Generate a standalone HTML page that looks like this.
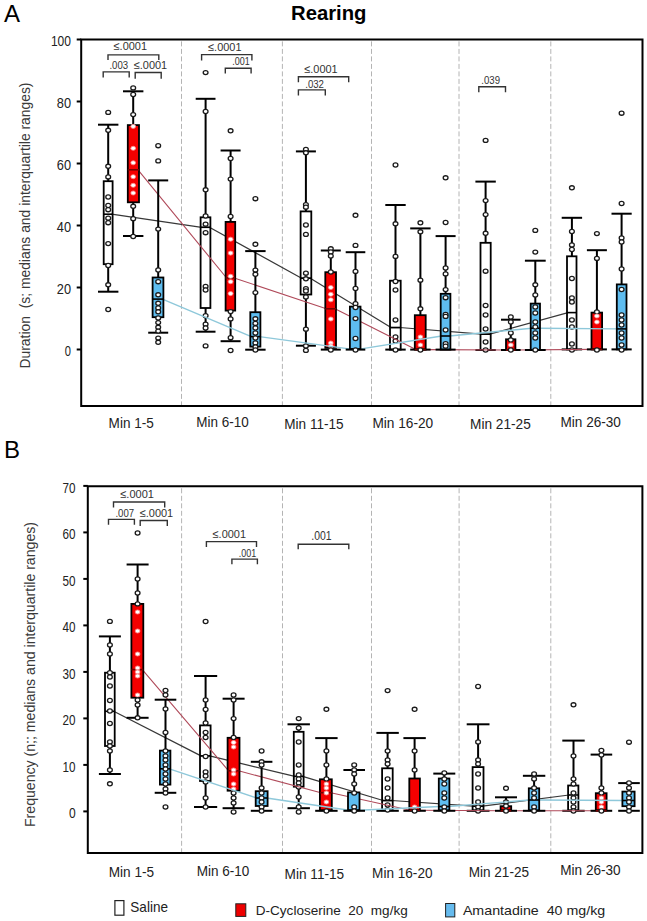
<!DOCTYPE html>
<html><head><meta charset="utf-8"><style>
html,body{margin:0;padding:0;background:#fff;}
svg{display:block;}
text{font-family:"Liberation Sans", sans-serif;}
.wk{stroke:#000;stroke-width:2;fill:none;}
.bx{stroke:#000;stroke-width:1.8;}
.md{stroke-width:1.6;}
.ptr{fill:#fff;stroke:#f88;stroke-width:0.8;}
.pt{fill:#fff;stroke:#1a1a1a;stroke-width:1.3;}
.br{fill:none;stroke:#333;stroke-width:1.4;}
.fr{fill:none;stroke:#000;stroke-width:2;}
.dl{stroke:#b4b4b4;stroke-width:1;stroke-dasharray:5 2.5;}
</style></head><body>
<svg width="647" height="921" viewBox="0 0 647 921">
<rect x="0" y="0" width="647" height="921" fill="#fff"/>

<text x="4" y="21.6" font-size="24" fill="#000">A</text>
<text x="291" y="19.5" font-size="20" font-weight="bold" textLength="75.5" lengthAdjust="spacingAndGlyphs" fill="#000">Rearing</text>
<text x="4" y="458" font-size="24" fill="#000">B</text>
<line x1="181.5" y1="41.4" x2="181.5" y2="405.0" class="dl"/>
<line x1="282.4" y1="41.4" x2="282.4" y2="405.0" class="dl"/>
<line x1="371.5" y1="41.4" x2="371.5" y2="405.0" class="dl"/>
<line x1="459.0" y1="41.4" x2="459.0" y2="405.0" class="dl"/>
<line x1="550.8" y1="41.4" x2="550.8" y2="405.0" class="dl"/>
<path d="M111.6,214.2 L201.6,227.3 L209.4,227.3 L301.6,278.2 L310.3,278.2 L391.0,327.5 L399.7,327.5 L481.5,334.2 L489.7,334.2 L568.0,312.6" fill="none" stroke="#383838" stroke-width="1.25" stroke-linejoin="round"/>
<rect x="103.7" y="181.2" width="8.9" height="83.0" fill="none" class="bx"/>
<line x1="108.2" y1="124.7" x2="108.2" y2="181.2" class="wk"/>
<line x1="108.2" y1="264.2" x2="108.2" y2="291.7" class="wk"/>
<line x1="98.0" y1="124.7" x2="118.4" y2="124.7" class="wk"/>
<line x1="98.0" y1="291.7" x2="118.4" y2="291.7" class="wk"/>
<line x1="103.7" y1="214.2" x2="112.6" y2="214.2" stroke="#000" class="md"/>
<rect x="200.6" y="217.3" width="9.8" height="90.7" fill="none" class="bx"/>
<line x1="205.6" y1="98.8" x2="205.6" y2="217.3" class="wk"/>
<line x1="205.6" y1="308.0" x2="205.6" y2="331.7" class="wk"/>
<line x1="195.7" y1="98.8" x2="215.5" y2="98.8" class="wk"/>
<line x1="195.7" y1="331.7" x2="215.5" y2="331.7" class="wk"/>
<line x1="200.6" y1="227.3" x2="210.4" y2="227.3" stroke="#000" class="md"/>
<rect x="300.6" y="211.4" width="10.7" height="83.1" fill="none" class="bx"/>
<line x1="305.9" y1="151.4" x2="305.9" y2="211.4" class="wk"/>
<line x1="305.9" y1="294.5" x2="305.9" y2="345.7" class="wk"/>
<line x1="295.9" y1="151.4" x2="315.9" y2="151.4" class="wk"/>
<line x1="295.9" y1="345.7" x2="315.9" y2="345.7" class="wk"/>
<line x1="300.6" y1="278.2" x2="311.3" y2="278.2" stroke="#000" class="md"/>
<rect x="390.0" y="280.7" width="10.7" height="68.9" fill="none" class="bx"/>
<line x1="395.5" y1="205.0" x2="395.5" y2="280.7" class="wk"/>
<line x1="385.3" y1="205.0" x2="405.7" y2="205.0" class="wk"/>
<line x1="385.3" y1="349.6" x2="405.7" y2="349.6" class="wk"/>
<line x1="390.0" y1="327.5" x2="400.7" y2="327.5" stroke="#000" class="md"/>
<rect x="480.5" y="242.8" width="10.2" height="107.2" fill="none" class="bx"/>
<line x1="485.6" y1="181.6" x2="485.6" y2="242.8" class="wk"/>
<line x1="475.40000000000003" y1="181.6" x2="495.8" y2="181.6" class="wk"/>
<line x1="475.40000000000003" y1="350.0" x2="495.8" y2="350.0" class="wk"/>
<line x1="480.5" y1="334.2" x2="490.7" y2="334.2" stroke="#000" class="md"/>
<rect x="567.0" y="256.3" width="9.5" height="93.1" fill="none" class="bx"/>
<line x1="571.9" y1="217.8" x2="571.9" y2="256.3" class="wk"/>
<line x1="561.6999999999999" y1="217.8" x2="582.1" y2="217.8" class="wk"/>
<line x1="561.6999999999999" y1="349.4" x2="582.1" y2="349.4" class="wk"/>
<line x1="567.0" y1="312.6" x2="576.5" y2="312.6" stroke="#000" class="md"/>
<ellipse cx="108.2" cy="112.4" rx="2.4" ry="2.05" class="pt"/>
<ellipse cx="108.2" cy="130.3" rx="2.4" ry="2.05" class="pt"/>
<ellipse cx="108.2" cy="166.3" rx="2.4" ry="2.05" class="pt"/>
<ellipse cx="108.2" cy="176.9" rx="2.4" ry="2.05" class="pt"/>
<ellipse cx="108.2" cy="197" rx="2.4" ry="2.05" class="pt"/>
<ellipse cx="108.2" cy="205.5" rx="2.4" ry="2.05" class="pt"/>
<ellipse cx="108.2" cy="209.7" rx="2.4" ry="2.05" class="pt"/>
<ellipse cx="108.2" cy="218.2" rx="2.4" ry="2.05" class="pt"/>
<ellipse cx="108.2" cy="222.7" rx="2.4" ry="2.05" class="pt"/>
<ellipse cx="108.2" cy="243.6" rx="2.4" ry="2.05" class="pt"/>
<ellipse cx="108.2" cy="265.5" rx="2.4" ry="2.05" class="pt"/>
<ellipse cx="108.2" cy="284.8" rx="2.4" ry="2.05" class="pt"/>
<ellipse cx="108.2" cy="309.5" rx="2.4" ry="2.05" class="pt"/>
<ellipse cx="205.6" cy="72.6" rx="2.4" ry="2.05" class="pt"/>
<ellipse cx="205.6" cy="111.5" rx="2.4" ry="2.05" class="pt"/>
<ellipse cx="205.6" cy="189.8" rx="2.4" ry="2.05" class="pt"/>
<ellipse cx="205.6" cy="216" rx="2.4" ry="2.05" class="pt"/>
<ellipse cx="205.6" cy="224.2" rx="2.4" ry="2.05" class="pt"/>
<ellipse cx="205.6" cy="232.7" rx="2.4" ry="2.05" class="pt"/>
<ellipse cx="205.6" cy="286.4" rx="2.4" ry="2.05" class="pt"/>
<ellipse cx="205.6" cy="290" rx="2.4" ry="2.05" class="pt"/>
<ellipse cx="205.6" cy="315.7" rx="2.4" ry="2.05" class="pt"/>
<ellipse cx="205.6" cy="324.2" rx="2.4" ry="2.05" class="pt"/>
<ellipse cx="205.6" cy="328" rx="2.4" ry="2.05" class="pt"/>
<ellipse cx="205.6" cy="345.9" rx="2.4" ry="2.05" class="pt"/>
<ellipse cx="305.9" cy="149.4" rx="2.4" ry="2.05" class="pt"/>
<ellipse cx="305.9" cy="152.8" rx="2.4" ry="2.05" class="pt"/>
<ellipse cx="305.9" cy="204.6" rx="2.4" ry="2.05" class="pt"/>
<ellipse cx="305.9" cy="207.2" rx="2.4" ry="2.05" class="pt"/>
<ellipse cx="305.9" cy="225" rx="2.4" ry="2.05" class="pt"/>
<ellipse cx="305.9" cy="234.4" rx="2.4" ry="2.05" class="pt"/>
<ellipse cx="305.9" cy="273.2" rx="2.4" ry="2.05" class="pt"/>
<ellipse cx="305.9" cy="278.8" rx="2.4" ry="2.05" class="pt"/>
<ellipse cx="305.9" cy="288.7" rx="2.4" ry="2.05" class="pt"/>
<ellipse cx="305.9" cy="291" rx="2.4" ry="2.05" class="pt"/>
<ellipse cx="305.9" cy="297" rx="2.4" ry="2.05" class="pt"/>
<ellipse cx="305.9" cy="329.2" rx="2.4" ry="2.05" class="pt"/>
<ellipse cx="305.9" cy="346" rx="2.4" ry="2.05" class="pt"/>
<ellipse cx="305.9" cy="350.4" rx="2.4" ry="2.05" class="pt"/>
<ellipse cx="395.5" cy="165" rx="2.4" ry="2.05" class="pt"/>
<ellipse cx="395.5" cy="223.8" rx="2.4" ry="2.05" class="pt"/>
<ellipse cx="395.5" cy="256.4" rx="2.4" ry="2.05" class="pt"/>
<ellipse cx="395.5" cy="281.5" rx="2.4" ry="2.05" class="pt"/>
<ellipse cx="395.5" cy="290" rx="2.4" ry="2.05" class="pt"/>
<ellipse cx="395.5" cy="320" rx="2.4" ry="2.05" class="pt"/>
<ellipse cx="395.5" cy="337" rx="2.4" ry="2.05" class="pt"/>
<ellipse cx="395.5" cy="341" rx="2.4" ry="2.05" class="pt"/>
<ellipse cx="395.5" cy="350" rx="2.4" ry="2.05" class="pt"/>
<ellipse cx="485.6" cy="140.4" rx="2.4" ry="2.05" class="pt"/>
<ellipse cx="485.6" cy="200.6" rx="2.4" ry="2.05" class="pt"/>
<ellipse cx="485.6" cy="214.6" rx="2.4" ry="2.05" class="pt"/>
<ellipse cx="485.6" cy="233.3" rx="2.4" ry="2.05" class="pt"/>
<ellipse cx="485.6" cy="271.2" rx="2.4" ry="2.05" class="pt"/>
<ellipse cx="485.6" cy="305.5" rx="2.4" ry="2.05" class="pt"/>
<ellipse cx="485.6" cy="315" rx="2.4" ry="2.05" class="pt"/>
<ellipse cx="485.6" cy="329" rx="2.4" ry="2.05" class="pt"/>
<ellipse cx="485.6" cy="342" rx="2.4" ry="2.05" class="pt"/>
<ellipse cx="485.6" cy="350" rx="2.4" ry="2.05" class="pt"/>
<ellipse cx="571.9" cy="187.8" rx="2.4" ry="2.05" class="pt"/>
<ellipse cx="571.9" cy="231.5" rx="2.4" ry="2.05" class="pt"/>
<ellipse cx="571.9" cy="245" rx="2.4" ry="2.05" class="pt"/>
<ellipse cx="571.9" cy="249.5" rx="2.4" ry="2.05" class="pt"/>
<ellipse cx="571.9" cy="278.5" rx="2.4" ry="2.05" class="pt"/>
<ellipse cx="571.9" cy="298" rx="2.4" ry="2.05" class="pt"/>
<ellipse cx="571.9" cy="302" rx="2.4" ry="2.05" class="pt"/>
<ellipse cx="571.9" cy="320" rx="2.4" ry="2.05" class="pt"/>
<ellipse cx="571.9" cy="327" rx="2.4" ry="2.05" class="pt"/>
<ellipse cx="571.9" cy="344" rx="2.4" ry="2.05" class="pt"/>
<ellipse cx="571.9" cy="350" rx="2.4" ry="2.05" class="pt"/>
<path d="M138.0,169.8 L226.6,278.0 L234.2,278.0 L326.3,308.8 L335.0,308.8 L415.8,349.6 L424.7,349.6 L507.0,350.0 L514.4,350.0 L592.5,349.4" fill="none" stroke="#b04a5a" stroke-width="1.1" stroke-linejoin="round"/>
<rect x="127.8" y="125.1" width="11.2" height="77.2" fill="#f40000" class="bx"/>
<line x1="133.2" y1="91.3" x2="133.2" y2="125.1" class="wk"/>
<line x1="133.2" y1="202.3" x2="133.2" y2="236.0" class="wk"/>
<line x1="122.99999999999999" y1="91.3" x2="143.39999999999998" y2="91.3" class="wk"/>
<line x1="122.99999999999999" y1="236.0" x2="143.39999999999998" y2="236.0" class="wk"/>
<line x1="127.8" y1="169.8" x2="139.0" y2="169.8" stroke="#700" class="md"/>
<rect x="225.6" y="221.9" width="9.6" height="88.7" fill="#f40000" class="bx"/>
<line x1="230.6" y1="150.5" x2="230.6" y2="221.9" class="wk"/>
<line x1="230.6" y1="310.6" x2="230.6" y2="341.2" class="wk"/>
<line x1="220.6" y1="150.5" x2="240.6" y2="150.5" class="wk"/>
<line x1="220.6" y1="341.2" x2="240.6" y2="341.2" class="wk"/>
<line x1="225.6" y1="278.0" x2="235.2" y2="278.0" stroke="#700" class="md"/>
<rect x="325.3" y="272.2" width="10.7" height="75.7" fill="#f40000" class="bx"/>
<line x1="330.8" y1="250.5" x2="330.8" y2="272.2" class="wk"/>
<line x1="330.8" y1="347.9" x2="330.8" y2="349.6" class="wk"/>
<line x1="320.8" y1="250.5" x2="340.8" y2="250.5" class="wk"/>
<line x1="320.8" y1="349.6" x2="340.8" y2="349.6" class="wk"/>
<line x1="325.3" y1="308.8" x2="336.0" y2="308.8" stroke="#700" class="md"/>
<rect x="414.8" y="315.2" width="10.9" height="34.4" fill="#f40000" class="bx"/>
<line x1="420.4" y1="228.4" x2="420.4" y2="315.2" class="wk"/>
<line x1="410.2" y1="228.4" x2="430.59999999999997" y2="228.4" class="wk"/>
<line x1="410.2" y1="349.6" x2="430.59999999999997" y2="349.6" class="wk"/>
<line x1="414.8" y1="349.6" x2="425.7" y2="349.6" stroke="#700" class="md"/>
<rect x="506.0" y="339.3" width="9.4" height="10.7" fill="#f40000" class="bx"/>
<line x1="510.8" y1="319.7" x2="510.8" y2="339.3" class="wk"/>
<line x1="501.0" y1="319.7" x2="520.6" y2="319.7" class="wk"/>
<line x1="501.0" y1="350.0" x2="520.6" y2="350.0" class="wk"/>
<line x1="506.0" y1="350.0" x2="515.4" y2="350.0" stroke="#700" class="md"/>
<rect x="591.5" y="312.6" width="10.6" height="36.8" fill="#f40000" class="bx"/>
<line x1="596.9" y1="250.2" x2="596.9" y2="312.6" class="wk"/>
<line x1="586.9" y1="250.2" x2="606.9" y2="250.2" class="wk"/>
<line x1="586.9" y1="349.4" x2="606.9" y2="349.4" class="wk"/>
<line x1="591.5" y1="349.4" x2="602.1" y2="349.4" stroke="#700" class="md"/>
<ellipse cx="133.2" cy="87.9" rx="2.4" ry="2.05" class="pt"/>
<ellipse cx="133.2" cy="94.5" rx="2.4" ry="2.05" class="pt"/>
<ellipse cx="133.2" cy="114.6" rx="2.4" ry="2.05" class="pt"/>
<ellipse cx="133.2" cy="126.4" rx="2.4" ry="2.05" class="ptr"/>
<ellipse cx="133.2" cy="148.3" rx="2.4" ry="2.05" class="ptr"/>
<ellipse cx="133.2" cy="162.8" rx="2.4" ry="2.05" class="ptr"/>
<ellipse cx="133.2" cy="176.7" rx="2.4" ry="2.05" class="ptr"/>
<ellipse cx="133.2" cy="185.3" rx="2.4" ry="2.05" class="ptr"/>
<ellipse cx="133.2" cy="193" rx="2.4" ry="2.05" class="ptr"/>
<ellipse cx="133.2" cy="206.3" rx="2.4" ry="2.05" class="pt"/>
<ellipse cx="133.2" cy="218.7" rx="2.4" ry="2.05" class="pt"/>
<ellipse cx="133.2" cy="236.5" rx="2.4" ry="2.05" class="pt"/>
<ellipse cx="230.6" cy="130.8" rx="2.4" ry="2.05" class="pt"/>
<ellipse cx="230.6" cy="158.5" rx="2.4" ry="2.05" class="pt"/>
<ellipse cx="230.6" cy="179.1" rx="2.4" ry="2.05" class="pt"/>
<ellipse cx="230.6" cy="216.5" rx="2.4" ry="2.05" class="pt"/>
<ellipse cx="230.6" cy="239.2" rx="2.4" ry="2.05" class="ptr"/>
<ellipse cx="230.6" cy="253.1" rx="2.4" ry="2.05" class="ptr"/>
<ellipse cx="230.6" cy="276.3" rx="2.4" ry="2.05" class="ptr"/>
<ellipse cx="230.6" cy="281.7" rx="2.4" ry="2.05" class="ptr"/>
<ellipse cx="230.6" cy="293.6" rx="2.4" ry="2.05" class="ptr"/>
<ellipse cx="230.6" cy="311.6" rx="2.4" ry="2.05" class="pt"/>
<ellipse cx="230.6" cy="318.9" rx="2.4" ry="2.05" class="pt"/>
<ellipse cx="230.6" cy="337.7" rx="2.4" ry="2.05" class="pt"/>
<ellipse cx="230.6" cy="350.5" rx="2.4" ry="2.05" class="pt"/>
<ellipse cx="330.8" cy="248.8" rx="2.4" ry="2.05" class="pt"/>
<ellipse cx="330.8" cy="252" rx="2.4" ry="2.05" class="pt"/>
<ellipse cx="330.8" cy="256" rx="2.4" ry="2.05" class="pt"/>
<ellipse cx="330.8" cy="272" rx="2.4" ry="2.05" class="pt"/>
<ellipse cx="330.8" cy="287.5" rx="2.4" ry="2.05" class="ptr"/>
<ellipse cx="330.8" cy="294.3" rx="2.4" ry="2.05" class="ptr"/>
<ellipse cx="330.8" cy="299.8" rx="2.4" ry="2.05" class="ptr"/>
<ellipse cx="330.8" cy="319" rx="2.4" ry="2.05" class="ptr"/>
<ellipse cx="330.8" cy="343" rx="2.4" ry="2.05" class="ptr"/>
<ellipse cx="330.8" cy="346" rx="2.4" ry="2.05" class="ptr"/>
<ellipse cx="330.8" cy="350" rx="2.4" ry="2.05" class="pt"/>
<ellipse cx="420.4" cy="222.8" rx="2.4" ry="2.05" class="pt"/>
<ellipse cx="420.4" cy="231.8" rx="2.4" ry="2.05" class="pt"/>
<ellipse cx="420.4" cy="280.2" rx="2.4" ry="2.05" class="pt"/>
<ellipse cx="420.4" cy="308.8" rx="2.4" ry="2.05" class="pt"/>
<ellipse cx="420.4" cy="337" rx="2.4" ry="2.05" class="ptr"/>
<ellipse cx="420.4" cy="345" rx="2.4" ry="2.05" class="ptr"/>
<ellipse cx="420.4" cy="350" rx="2.4" ry="2.05" class="pt"/>
<ellipse cx="510.8" cy="317" rx="2.4" ry="2.05" class="pt"/>
<ellipse cx="510.8" cy="322" rx="2.4" ry="2.05" class="pt"/>
<ellipse cx="510.8" cy="333" rx="2.4" ry="2.05" class="pt"/>
<ellipse cx="510.8" cy="340" rx="2.4" ry="2.05" class="pt"/>
<ellipse cx="510.8" cy="345" rx="2.4" ry="2.05" class="ptr"/>
<ellipse cx="510.8" cy="350" rx="2.4" ry="2.05" class="pt"/>
<ellipse cx="596.9" cy="233.6" rx="2.4" ry="2.05" class="pt"/>
<ellipse cx="596.9" cy="258.4" rx="2.4" ry="2.05" class="pt"/>
<ellipse cx="596.9" cy="312" rx="2.4" ry="2.05" class="pt"/>
<ellipse cx="596.9" cy="316" rx="2.4" ry="2.05" class="ptr"/>
<ellipse cx="596.9" cy="322" rx="2.4" ry="2.05" class="ptr"/>
<ellipse cx="596.9" cy="350" rx="2.4" ry="2.05" class="pt"/>
<path d="M162.4,299.1 L251.3,336.6 L259.4,336.6 L350.9,349.1 L359.5,349.1 L441.7,336.0 L449.4,336.0 L531.7,328.2 L539.0,328.2 L617.8,328.9" fill="none" stroke="#8ec8da" stroke-width="1.4" stroke-linejoin="round"/>
<rect x="152.6" y="277.5" width="10.8" height="39.7" fill="#5ebdf0" class="bx"/>
<line x1="158.2" y1="180.4" x2="158.2" y2="277.5" class="wk"/>
<line x1="158.2" y1="317.2" x2="158.2" y2="332.7" class="wk"/>
<line x1="148.2" y1="180.4" x2="168.2" y2="180.4" class="wk"/>
<line x1="148.2" y1="332.7" x2="168.2" y2="332.7" class="wk"/>
<line x1="152.6" y1="299.1" x2="163.4" y2="299.1" stroke="#000" class="md"/>
<rect x="250.3" y="312.2" width="10.1" height="34.4" fill="#5ebdf0" class="bx"/>
<line x1="255.4" y1="251.1" x2="255.4" y2="312.2" class="wk"/>
<line x1="255.4" y1="346.6" x2="255.4" y2="349.7" class="wk"/>
<line x1="245.20000000000002" y1="251.1" x2="265.6" y2="251.1" class="wk"/>
<line x1="245.20000000000002" y1="349.7" x2="265.6" y2="349.7" class="wk"/>
<line x1="250.3" y1="336.6" x2="260.4" y2="336.6" stroke="#000" class="md"/>
<rect x="349.9" y="306.6" width="10.6" height="42.5" fill="#5ebdf0" class="bx"/>
<line x1="355.5" y1="252.2" x2="355.5" y2="306.6" class="wk"/>
<line x1="345.7" y1="252.2" x2="365.3" y2="252.2" class="wk"/>
<line x1="345.7" y1="349.6" x2="365.3" y2="349.6" class="wk"/>
<line x1="349.9" y1="349.1" x2="360.5" y2="349.1" stroke="#000" class="md"/>
<rect x="440.7" y="293.8" width="9.7" height="55.8" fill="#5ebdf0" class="bx"/>
<line x1="445.6" y1="236.1" x2="445.6" y2="293.8" class="wk"/>
<line x1="435.6" y1="236.1" x2="455.6" y2="236.1" class="wk"/>
<line x1="435.6" y1="349.6" x2="455.6" y2="349.6" class="wk"/>
<line x1="440.7" y1="336.0" x2="450.4" y2="336.0" stroke="#000" class="md"/>
<rect x="530.7" y="303.6" width="9.3" height="46.4" fill="#5ebdf0" class="bx"/>
<line x1="535.3" y1="260.7" x2="535.3" y2="303.6" class="wk"/>
<line x1="524.9" y1="260.7" x2="545.6999999999999" y2="260.7" class="wk"/>
<line x1="524.9" y1="350.0" x2="545.6999999999999" y2="350.0" class="wk"/>
<line x1="530.7" y1="328.2" x2="540.0" y2="328.2" stroke="#000" class="md"/>
<rect x="616.8" y="284.4" width="9.7" height="65.0" fill="#5ebdf0" class="bx"/>
<line x1="621.6" y1="213.7" x2="621.6" y2="284.4" class="wk"/>
<line x1="611.5" y1="213.7" x2="631.7" y2="213.7" class="wk"/>
<line x1="611.5" y1="349.4" x2="631.7" y2="349.4" class="wk"/>
<line x1="616.8" y1="328.9" x2="626.5" y2="328.9" stroke="#000" class="md"/>
<ellipse cx="158.2" cy="145.7" rx="2.4" ry="2.05" class="pt"/>
<ellipse cx="158.2" cy="160.9" rx="2.4" ry="2.05" class="pt"/>
<ellipse cx="158.2" cy="229.1" rx="2.4" ry="2.05" class="pt"/>
<ellipse cx="158.2" cy="270" rx="2.4" ry="2.05" class="pt"/>
<ellipse cx="158.2" cy="281.7" rx="2.4" ry="2.05" class="pt"/>
<ellipse cx="158.2" cy="294.8" rx="2.4" ry="2.05" class="pt"/>
<ellipse cx="158.2" cy="303.3" rx="2.4" ry="2.05" class="pt"/>
<ellipse cx="158.2" cy="308" rx="2.4" ry="2.05" class="pt"/>
<ellipse cx="158.2" cy="311.8" rx="2.4" ry="2.05" class="pt"/>
<ellipse cx="158.2" cy="318" rx="2.4" ry="2.05" class="pt"/>
<ellipse cx="158.2" cy="322.6" rx="2.4" ry="2.05" class="pt"/>
<ellipse cx="158.2" cy="327.3" rx="2.4" ry="2.05" class="pt"/>
<ellipse cx="158.2" cy="331.1" rx="2.4" ry="2.05" class="pt"/>
<ellipse cx="158.2" cy="338.1" rx="2.4" ry="2.05" class="pt"/>
<ellipse cx="158.2" cy="342.3" rx="2.4" ry="2.05" class="pt"/>
<ellipse cx="255.4" cy="198.7" rx="2.4" ry="2.05" class="pt"/>
<ellipse cx="255.4" cy="244.3" rx="2.4" ry="2.05" class="pt"/>
<ellipse cx="255.4" cy="270.1" rx="2.4" ry="2.05" class="pt"/>
<ellipse cx="255.4" cy="274.3" rx="2.4" ry="2.05" class="pt"/>
<ellipse cx="255.4" cy="292.6" rx="2.4" ry="2.05" class="pt"/>
<ellipse cx="255.4" cy="318.8" rx="2.4" ry="2.05" class="pt"/>
<ellipse cx="255.4" cy="323.4" rx="2.4" ry="2.05" class="pt"/>
<ellipse cx="255.4" cy="328" rx="2.4" ry="2.05" class="pt"/>
<ellipse cx="255.4" cy="333" rx="2.4" ry="2.05" class="pt"/>
<ellipse cx="255.4" cy="338" rx="2.4" ry="2.05" class="pt"/>
<ellipse cx="255.4" cy="343" rx="2.4" ry="2.05" class="pt"/>
<ellipse cx="255.4" cy="347" rx="2.4" ry="2.05" class="pt"/>
<ellipse cx="255.4" cy="350" rx="2.4" ry="2.05" class="pt"/>
<ellipse cx="355.5" cy="215.3" rx="2.4" ry="2.05" class="pt"/>
<ellipse cx="355.5" cy="245.4" rx="2.4" ry="2.05" class="pt"/>
<ellipse cx="355.5" cy="271.4" rx="2.4" ry="2.05" class="pt"/>
<ellipse cx="355.5" cy="288.5" rx="2.4" ry="2.05" class="pt"/>
<ellipse cx="355.5" cy="303.7" rx="2.4" ry="2.05" class="pt"/>
<ellipse cx="355.5" cy="307.5" rx="2.4" ry="2.05" class="pt"/>
<ellipse cx="355.5" cy="318.6" rx="2.4" ry="2.05" class="pt"/>
<ellipse cx="355.5" cy="338.5" rx="2.4" ry="2.05" class="pt"/>
<ellipse cx="355.5" cy="350" rx="2.4" ry="2.05" class="pt"/>
<ellipse cx="445.6" cy="177.8" rx="2.4" ry="2.05" class="pt"/>
<ellipse cx="445.6" cy="222.5" rx="2.4" ry="2.05" class="pt"/>
<ellipse cx="445.6" cy="268" rx="2.4" ry="2.05" class="pt"/>
<ellipse cx="445.6" cy="273.9" rx="2.4" ry="2.05" class="pt"/>
<ellipse cx="445.6" cy="289.6" rx="2.4" ry="2.05" class="pt"/>
<ellipse cx="445.6" cy="297.7" rx="2.4" ry="2.05" class="pt"/>
<ellipse cx="445.6" cy="314.4" rx="2.4" ry="2.05" class="pt"/>
<ellipse cx="445.6" cy="316.4" rx="2.4" ry="2.05" class="pt"/>
<ellipse cx="445.6" cy="330" rx="2.4" ry="2.05" class="pt"/>
<ellipse cx="445.6" cy="343.6" rx="2.4" ry="2.05" class="pt"/>
<ellipse cx="445.6" cy="346.2" rx="2.4" ry="2.05" class="pt"/>
<ellipse cx="535.3" cy="230.4" rx="2.4" ry="2.05" class="pt"/>
<ellipse cx="535.3" cy="252.1" rx="2.4" ry="2.05" class="pt"/>
<ellipse cx="535.3" cy="284.8" rx="2.4" ry="2.05" class="pt"/>
<ellipse cx="535.3" cy="295" rx="2.4" ry="2.05" class="pt"/>
<ellipse cx="535.3" cy="307" rx="2.4" ry="2.05" class="pt"/>
<ellipse cx="535.3" cy="313" rx="2.4" ry="2.05" class="pt"/>
<ellipse cx="535.3" cy="322" rx="2.4" ry="2.05" class="pt"/>
<ellipse cx="535.3" cy="327" rx="2.4" ry="2.05" class="pt"/>
<ellipse cx="535.3" cy="333" rx="2.4" ry="2.05" class="pt"/>
<ellipse cx="535.3" cy="338" rx="2.4" ry="2.05" class="pt"/>
<ellipse cx="535.3" cy="350" rx="2.4" ry="2.05" class="pt"/>
<ellipse cx="621.6" cy="113.2" rx="2.4" ry="2.05" class="pt"/>
<ellipse cx="621.6" cy="203.5" rx="2.4" ry="2.05" class="pt"/>
<ellipse cx="621.6" cy="238" rx="2.4" ry="2.05" class="pt"/>
<ellipse cx="621.6" cy="242" rx="2.4" ry="2.05" class="pt"/>
<ellipse cx="621.6" cy="269" rx="2.4" ry="2.05" class="pt"/>
<ellipse cx="621.6" cy="289.5" rx="2.4" ry="2.05" class="pt"/>
<ellipse cx="621.6" cy="315" rx="2.4" ry="2.05" class="pt"/>
<ellipse cx="621.6" cy="320" rx="2.4" ry="2.05" class="pt"/>
<ellipse cx="621.6" cy="325" rx="2.4" ry="2.05" class="pt"/>
<ellipse cx="621.6" cy="333" rx="2.4" ry="2.05" class="pt"/>
<ellipse cx="621.6" cy="338" rx="2.4" ry="2.05" class="pt"/>
<ellipse cx="621.6" cy="345" rx="2.4" ry="2.05" class="pt"/>
<ellipse cx="621.6" cy="350" rx="2.4" ry="2.05" class="pt"/>
<path d="M81.2,39.4 L642.5,39.4 L642.5,406.0 L81.2,406.0 Z" class="fr"/>
<line x1="76.7" y1="39.5" x2="81.2" y2="39.5" class="fr"/>
<text x="71.0" y="46.1" font-size="14.6" text-anchor="end" textLength="20.1" lengthAdjust="spacingAndGlyphs" fill="#222">100</text>
<line x1="76.7" y1="101.5" x2="81.2" y2="101.5" class="fr"/>
<text x="71.0" y="108.1" font-size="14.6" text-anchor="end" textLength="14.2" lengthAdjust="spacingAndGlyphs" fill="#222">80</text>
<line x1="76.7" y1="163.5" x2="81.2" y2="163.5" class="fr"/>
<text x="71.0" y="170.1" font-size="14.6" text-anchor="end" textLength="14.2" lengthAdjust="spacingAndGlyphs" fill="#222">60</text>
<line x1="76.7" y1="225.5" x2="81.2" y2="225.5" class="fr"/>
<text x="71.0" y="232.1" font-size="14.6" text-anchor="end" textLength="14.2" lengthAdjust="spacingAndGlyphs" fill="#222">40</text>
<line x1="76.7" y1="287.5" x2="81.2" y2="287.5" class="fr"/>
<text x="71.0" y="294.1" font-size="14.6" text-anchor="end" textLength="14.2" lengthAdjust="spacingAndGlyphs" fill="#222">20</text>
<line x1="76.7" y1="349.5" x2="81.2" y2="349.5" class="fr"/>
<text x="71.0" y="356.1" font-size="14.6" text-anchor="end" textLength="6.2" lengthAdjust="spacingAndGlyphs" fill="#222">0</text>
<text x="108.6" y="427.6" font-size="14.6" textLength="45.2" lengthAdjust="spacingAndGlyphs" fill="#222">Min 1-5</text>
<text x="196.3" y="427.0" font-size="14.6" textLength="52.4" lengthAdjust="spacingAndGlyphs" fill="#222">Min 6-10</text>
<text x="284.3" y="428.6" font-size="14.6" textLength="59.3" lengthAdjust="spacingAndGlyphs" fill="#222">Min 11-15</text>
<text x="372.4" y="428.3" font-size="14.6" textLength="60.8" lengthAdjust="spacingAndGlyphs" fill="#222">Min 16-20</text>
<text x="470.0" y="428.6" font-size="14.6" textLength="60.8" lengthAdjust="spacingAndGlyphs" fill="#222">Min 21-25</text>
<text x="560.5" y="426.6" font-size="14.6" textLength="60.4" lengthAdjust="spacingAndGlyphs" fill="#222">Min 26-30</text>
<text transform="translate(29.6,225.5) rotate(-90)" x="0" y="0" font-size="14.4" text-anchor="middle" textLength="286" lengthAdjust="spacingAndGlyphs" fill="#3a3a3a">Duration&#160; (s; medians and interquartile ranges)</text>
<line x1="181.6" y1="488.3" x2="181.6" y2="852.0" class="dl"/>
<line x1="282.5" y1="488.3" x2="282.5" y2="852.0" class="dl"/>
<line x1="371.5" y1="488.3" x2="371.5" y2="852.0" class="dl"/>
<line x1="459.1" y1="488.3" x2="459.1" y2="852.0" class="dl"/>
<line x1="550.8" y1="488.3" x2="550.8" y2="852.0" class="dl"/>
<path d="M113.7,711.3 L201.0,755.9 L209.6,755.9 L294.8,776.4 L302.6,776.4 L383.1,800.5 L391.7,800.5 L473.6,806.2 L482.5,806.2 L569.1,795.0" fill="none" stroke="#383838" stroke-width="1.25" stroke-linejoin="round"/>
<rect x="105.0" y="672.7" width="9.7" height="73.3" fill="none" class="bx"/>
<line x1="109.9" y1="636.4" x2="109.9" y2="672.7" class="wk"/>
<line x1="109.9" y1="746.0" x2="109.9" y2="774.0" class="wk"/>
<line x1="98.9" y1="636.4" x2="120.9" y2="636.4" class="wk"/>
<line x1="98.9" y1="774.0" x2="120.9" y2="774.0" class="wk"/>
<line x1="105.0" y1="711.3" x2="114.7" y2="711.3" stroke="#000" class="md"/>
<rect x="200.0" y="725.4" width="10.6" height="55.6" fill="none" class="bx"/>
<line x1="205.6" y1="676.0" x2="205.6" y2="725.4" class="wk"/>
<line x1="205.6" y1="781.0" x2="205.6" y2="807.0" class="wk"/>
<line x1="194.0" y1="676.0" x2="217.2" y2="676.0" class="wk"/>
<line x1="194.0" y1="807.0" x2="217.2" y2="807.0" class="wk"/>
<line x1="200.0" y1="755.9" x2="210.6" y2="755.9" stroke="#000" class="md"/>
<rect x="293.8" y="731.8" width="9.8" height="54.9" fill="none" class="bx"/>
<line x1="298.7" y1="724.3" x2="298.7" y2="731.8" class="wk"/>
<line x1="298.7" y1="786.7" x2="298.7" y2="808.2" class="wk"/>
<line x1="287.5" y1="724.3" x2="309.9" y2="724.3" class="wk"/>
<line x1="287.5" y1="808.2" x2="309.9" y2="808.2" class="wk"/>
<line x1="293.8" y1="776.4" x2="303.6" y2="776.4" stroke="#000" class="md"/>
<rect x="382.1" y="768.3" width="10.6" height="42.0" fill="none" class="bx"/>
<line x1="387.6" y1="732.9" x2="387.6" y2="768.3" class="wk"/>
<line x1="376.40000000000003" y1="732.9" x2="398.8" y2="732.9" class="wk"/>
<line x1="376.40000000000003" y1="810.8" x2="398.8" y2="810.8" class="wk"/>
<line x1="382.1" y1="800.5" x2="392.7" y2="800.5" stroke="#000" class="md"/>
<rect x="472.6" y="767.1" width="10.9" height="43.2" fill="none" class="bx"/>
<line x1="478.1" y1="724.3" x2="478.1" y2="767.1" class="wk"/>
<line x1="466.70000000000005" y1="724.3" x2="489.5" y2="724.3" class="wk"/>
<line x1="466.70000000000005" y1="810.8" x2="489.5" y2="810.8" class="wk"/>
<line x1="472.6" y1="806.2" x2="483.5" y2="806.2" stroke="#000" class="md"/>
<rect x="568.1" y="785.5" width="10.3" height="24.8" fill="none" class="bx"/>
<line x1="573.5" y1="740.6" x2="573.5" y2="785.5" class="wk"/>
<line x1="562.3" y1="740.6" x2="584.7" y2="740.6" class="wk"/>
<line x1="562.3" y1="810.8" x2="584.7" y2="810.8" class="wk"/>
<line x1="568.1" y1="795.0" x2="578.4" y2="795.0" stroke="#000" class="md"/>
<ellipse cx="109.9" cy="621.4" rx="2.4" ry="2.05" class="pt"/>
<ellipse cx="109.9" cy="645" rx="2.4" ry="2.05" class="pt"/>
<ellipse cx="109.9" cy="654" rx="2.4" ry="2.05" class="pt"/>
<ellipse cx="109.9" cy="672.7" rx="2.4" ry="2.05" class="pt"/>
<ellipse cx="109.9" cy="677" rx="2.4" ry="2.05" class="pt"/>
<ellipse cx="109.9" cy="686" rx="2.4" ry="2.05" class="pt"/>
<ellipse cx="109.9" cy="700.5" rx="2.4" ry="2.05" class="pt"/>
<ellipse cx="109.9" cy="711" rx="2.4" ry="2.05" class="pt"/>
<ellipse cx="109.9" cy="723.5" rx="2.4" ry="2.05" class="pt"/>
<ellipse cx="109.9" cy="742" rx="2.4" ry="2.05" class="pt"/>
<ellipse cx="109.9" cy="746" rx="2.4" ry="2.05" class="pt"/>
<ellipse cx="109.9" cy="751" rx="2.4" ry="2.05" class="pt"/>
<ellipse cx="109.9" cy="770" rx="2.4" ry="2.05" class="pt"/>
<ellipse cx="109.9" cy="783.8" rx="2.4" ry="2.05" class="pt"/>
<ellipse cx="205.6" cy="621.5" rx="2.4" ry="2.05" class="pt"/>
<ellipse cx="205.6" cy="700" rx="2.4" ry="2.05" class="pt"/>
<ellipse cx="205.6" cy="709.5" rx="2.4" ry="2.05" class="pt"/>
<ellipse cx="205.6" cy="723" rx="2.4" ry="2.05" class="pt"/>
<ellipse cx="205.6" cy="732.5" rx="2.4" ry="2.05" class="pt"/>
<ellipse cx="205.6" cy="737.5" rx="2.4" ry="2.05" class="pt"/>
<ellipse cx="205.6" cy="756.5" rx="2.4" ry="2.05" class="pt"/>
<ellipse cx="205.6" cy="772" rx="2.4" ry="2.05" class="pt"/>
<ellipse cx="205.6" cy="776" rx="2.4" ry="2.05" class="pt"/>
<ellipse cx="205.6" cy="782" rx="2.4" ry="2.05" class="pt"/>
<ellipse cx="205.6" cy="798" rx="2.4" ry="2.05" class="pt"/>
<ellipse cx="205.6" cy="807" rx="2.4" ry="2.05" class="pt"/>
<ellipse cx="298.7" cy="718.6" rx="2.4" ry="2.05" class="pt"/>
<ellipse cx="298.7" cy="728" rx="2.4" ry="2.05" class="pt"/>
<ellipse cx="298.7" cy="742" rx="2.4" ry="2.05" class="pt"/>
<ellipse cx="298.7" cy="765" rx="2.4" ry="2.05" class="pt"/>
<ellipse cx="298.7" cy="775" rx="2.4" ry="2.05" class="pt"/>
<ellipse cx="298.7" cy="779" rx="2.4" ry="2.05" class="pt"/>
<ellipse cx="298.7" cy="783" rx="2.4" ry="2.05" class="pt"/>
<ellipse cx="298.7" cy="787" rx="2.4" ry="2.05" class="pt"/>
<ellipse cx="298.7" cy="797" rx="2.4" ry="2.05" class="pt"/>
<ellipse cx="298.7" cy="807" rx="2.4" ry="2.05" class="pt"/>
<ellipse cx="298.7" cy="812" rx="2.4" ry="2.05" class="pt"/>
<ellipse cx="387.6" cy="690.6" rx="2.4" ry="2.05" class="pt"/>
<ellipse cx="387.6" cy="751" rx="2.4" ry="2.05" class="pt"/>
<ellipse cx="387.6" cy="760" rx="2.4" ry="2.05" class="pt"/>
<ellipse cx="387.6" cy="764" rx="2.4" ry="2.05" class="pt"/>
<ellipse cx="387.6" cy="779" rx="2.4" ry="2.05" class="pt"/>
<ellipse cx="387.6" cy="788" rx="2.4" ry="2.05" class="pt"/>
<ellipse cx="387.6" cy="798" rx="2.4" ry="2.05" class="pt"/>
<ellipse cx="387.6" cy="805" rx="2.4" ry="2.05" class="pt"/>
<ellipse cx="387.6" cy="810" rx="2.4" ry="2.05" class="pt"/>
<ellipse cx="478.1" cy="686.5" rx="2.4" ry="2.05" class="pt"/>
<ellipse cx="478.1" cy="742" rx="2.4" ry="2.05" class="pt"/>
<ellipse cx="478.1" cy="760" rx="2.4" ry="2.05" class="pt"/>
<ellipse cx="478.1" cy="764" rx="2.4" ry="2.05" class="pt"/>
<ellipse cx="478.1" cy="774" rx="2.4" ry="2.05" class="pt"/>
<ellipse cx="478.1" cy="788" rx="2.4" ry="2.05" class="pt"/>
<ellipse cx="478.1" cy="802" rx="2.4" ry="2.05" class="pt"/>
<ellipse cx="478.1" cy="807" rx="2.4" ry="2.05" class="pt"/>
<ellipse cx="478.1" cy="811" rx="2.4" ry="2.05" class="pt"/>
<ellipse cx="573.5" cy="704.8" rx="2.4" ry="2.05" class="pt"/>
<ellipse cx="573.5" cy="756" rx="2.4" ry="2.05" class="pt"/>
<ellipse cx="573.5" cy="779" rx="2.4" ry="2.05" class="pt"/>
<ellipse cx="573.5" cy="784" rx="2.4" ry="2.05" class="pt"/>
<ellipse cx="573.5" cy="793" rx="2.4" ry="2.05" class="pt"/>
<ellipse cx="573.5" cy="798" rx="2.4" ry="2.05" class="pt"/>
<ellipse cx="573.5" cy="802" rx="2.4" ry="2.05" class="pt"/>
<ellipse cx="573.5" cy="807" rx="2.4" ry="2.05" class="pt"/>
<ellipse cx="573.5" cy="811" rx="2.4" ry="2.05" class="pt"/>
<path d="M142.3,669.6 L228.6,770.8 L238.5,770.8 L320.9,792.7 L330.8,792.7 L410.3,810.3 L418.9,810.3 L501.6,810.8 L510.2,810.8 L596.8,810.8" fill="none" stroke="#b04a5a" stroke-width="1.1" stroke-linejoin="round"/>
<rect x="131.4" y="603.9" width="11.9" height="93.8" fill="#f40000" class="bx"/>
<line x1="137.6" y1="564.5" x2="137.6" y2="603.9" class="wk"/>
<line x1="137.6" y1="697.7" x2="137.6" y2="717.8" class="wk"/>
<line x1="126.6" y1="564.5" x2="148.6" y2="564.5" class="wk"/>
<line x1="126.6" y1="717.8" x2="148.6" y2="717.8" class="wk"/>
<line x1="131.4" y1="669.6" x2="143.3" y2="669.6" stroke="#700" class="md"/>
<rect x="227.6" y="737.8" width="11.9" height="52.9" fill="#f40000" class="bx"/>
<line x1="233.6" y1="698.7" x2="233.6" y2="737.8" class="wk"/>
<line x1="233.6" y1="790.7" x2="233.6" y2="808.2" class="wk"/>
<line x1="222.6" y1="698.7" x2="244.6" y2="698.7" class="wk"/>
<line x1="222.6" y1="808.2" x2="244.6" y2="808.2" class="wk"/>
<line x1="227.6" y1="770.8" x2="239.5" y2="770.8" stroke="#700" class="md"/>
<rect x="319.9" y="779.3" width="11.9" height="31.0" fill="#f40000" class="bx"/>
<line x1="326.4" y1="738.1" x2="326.4" y2="779.3" class="wk"/>
<line x1="315.2" y1="738.1" x2="337.59999999999997" y2="738.1" class="wk"/>
<line x1="315.2" y1="810.8" x2="337.59999999999997" y2="810.8" class="wk"/>
<line x1="319.9" y1="792.7" x2="331.8" y2="792.7" stroke="#700" class="md"/>
<rect x="409.3" y="778.5" width="10.6" height="31.8" fill="#f40000" class="bx"/>
<line x1="414.6" y1="738.1" x2="414.6" y2="778.5" class="wk"/>
<line x1="403.40000000000003" y1="738.1" x2="425.8" y2="738.1" class="wk"/>
<line x1="403.40000000000003" y1="810.8" x2="425.8" y2="810.8" class="wk"/>
<line x1="409.3" y1="810.3" x2="419.9" y2="810.3" stroke="#700" class="md"/>
<rect x="500.6" y="806.2" width="10.6" height="4.1" fill="#f40000" class="bx"/>
<line x1="506.0" y1="797.3" x2="506.0" y2="806.2" class="wk"/>
<line x1="495.0" y1="797.3" x2="517.0" y2="797.3" class="wk"/>
<line x1="495.0" y1="810.8" x2="517.0" y2="810.8" class="wk"/>
<line x1="500.6" y1="810.8" x2="511.2" y2="810.8" stroke="#700" class="md"/>
<rect x="595.8" y="793.2" width="10.8" height="17.1" fill="#f40000" class="bx"/>
<line x1="601.4" y1="754.6" x2="601.4" y2="793.2" class="wk"/>
<line x1="590.6" y1="754.6" x2="612.1999999999999" y2="754.6" class="wk"/>
<line x1="590.6" y1="810.8" x2="612.1999999999999" y2="810.8" class="wk"/>
<line x1="595.8" y1="810.8" x2="606.6" y2="810.8" stroke="#700" class="md"/>
<ellipse cx="137.6" cy="533" rx="2.4" ry="2.05" class="pt"/>
<ellipse cx="137.6" cy="579" rx="2.4" ry="2.05" class="pt"/>
<ellipse cx="137.6" cy="593" rx="2.4" ry="2.05" class="pt"/>
<ellipse cx="137.6" cy="603.9" rx="2.4" ry="2.05" class="pt"/>
<ellipse cx="137.6" cy="612" rx="2.4" ry="2.05" class="ptr"/>
<ellipse cx="137.6" cy="631" rx="2.4" ry="2.05" class="ptr"/>
<ellipse cx="137.6" cy="654" rx="2.4" ry="2.05" class="ptr"/>
<ellipse cx="137.6" cy="668" rx="2.4" ry="2.05" class="ptr"/>
<ellipse cx="137.6" cy="672" rx="2.4" ry="2.05" class="ptr"/>
<ellipse cx="137.6" cy="676" rx="2.4" ry="2.05" class="ptr"/>
<ellipse cx="137.6" cy="695" rx="2.4" ry="2.05" class="ptr"/>
<ellipse cx="137.6" cy="700" rx="2.4" ry="2.05" class="pt"/>
<ellipse cx="137.6" cy="705" rx="2.4" ry="2.05" class="pt"/>
<ellipse cx="137.6" cy="717.8" rx="2.4" ry="2.05" class="pt"/>
<ellipse cx="233.6" cy="695" rx="2.4" ry="2.05" class="pt"/>
<ellipse cx="233.6" cy="700" rx="2.4" ry="2.05" class="pt"/>
<ellipse cx="233.6" cy="718.6" rx="2.4" ry="2.05" class="pt"/>
<ellipse cx="233.6" cy="737.5" rx="2.4" ry="2.05" class="pt"/>
<ellipse cx="233.6" cy="742.5" rx="2.4" ry="2.05" class="ptr"/>
<ellipse cx="233.6" cy="747" rx="2.4" ry="2.05" class="ptr"/>
<ellipse cx="233.6" cy="770" rx="2.4" ry="2.05" class="ptr"/>
<ellipse cx="233.6" cy="774" rx="2.4" ry="2.05" class="ptr"/>
<ellipse cx="233.6" cy="784" rx="2.4" ry="2.05" class="ptr"/>
<ellipse cx="233.6" cy="789" rx="2.4" ry="2.05" class="ptr"/>
<ellipse cx="233.6" cy="793" rx="2.4" ry="2.05" class="pt"/>
<ellipse cx="233.6" cy="798" rx="2.4" ry="2.05" class="pt"/>
<ellipse cx="233.6" cy="803" rx="2.4" ry="2.05" class="pt"/>
<ellipse cx="233.6" cy="812" rx="2.4" ry="2.05" class="pt"/>
<ellipse cx="326.4" cy="709.3" rx="2.4" ry="2.05" class="pt"/>
<ellipse cx="326.4" cy="751" rx="2.4" ry="2.05" class="pt"/>
<ellipse cx="326.4" cy="765" rx="2.4" ry="2.05" class="pt"/>
<ellipse cx="326.4" cy="779" rx="2.4" ry="2.05" class="pt"/>
<ellipse cx="326.4" cy="784" rx="2.4" ry="2.05" class="ptr"/>
<ellipse cx="326.4" cy="788" rx="2.4" ry="2.05" class="ptr"/>
<ellipse cx="326.4" cy="793" rx="2.4" ry="2.05" class="ptr"/>
<ellipse cx="326.4" cy="802" rx="2.4" ry="2.05" class="ptr"/>
<ellipse cx="326.4" cy="811" rx="2.4" ry="2.05" class="pt"/>
<ellipse cx="414.6" cy="709.3" rx="2.4" ry="2.05" class="pt"/>
<ellipse cx="414.6" cy="751" rx="2.4" ry="2.05" class="pt"/>
<ellipse cx="414.6" cy="770" rx="2.4" ry="2.05" class="pt"/>
<ellipse cx="414.6" cy="807" rx="2.4" ry="2.05" class="ptr"/>
<ellipse cx="414.6" cy="811" rx="2.4" ry="2.05" class="pt"/>
<ellipse cx="506.0" cy="788.3" rx="2.4" ry="2.05" class="pt"/>
<ellipse cx="506.0" cy="802" rx="2.4" ry="2.05" class="pt"/>
<ellipse cx="506.0" cy="806" rx="2.4" ry="2.05" class="pt"/>
<ellipse cx="506.0" cy="811" rx="2.4" ry="2.05" class="pt"/>
<ellipse cx="601.4" cy="750.5" rx="2.4" ry="2.05" class="pt"/>
<ellipse cx="601.4" cy="755" rx="2.4" ry="2.05" class="pt"/>
<ellipse cx="601.4" cy="788" rx="2.4" ry="2.05" class="pt"/>
<ellipse cx="601.4" cy="793" rx="2.4" ry="2.05" class="pt"/>
<ellipse cx="601.4" cy="798" rx="2.4" ry="2.05" class="ptr"/>
<ellipse cx="601.4" cy="802" rx="2.4" ry="2.05" class="ptr"/>
<ellipse cx="601.4" cy="807" rx="2.4" ry="2.05" class="ptr"/>
<ellipse cx="601.4" cy="811" rx="2.4" ry="2.05" class="pt"/>
<path d="M169.4,768.8 L256.7,798.0 L266.6,798.0 L349.0,810.3 L358.5,810.3 L439.8,806.5 L448.4,806.5 L529.8,800.0 L538.2,800.0 L623.4,800.5" fill="none" stroke="#8ec8da" stroke-width="1.4" stroke-linejoin="round"/>
<rect x="159.9" y="750.6" width="10.5" height="34.0" fill="#5ebdf0" class="bx"/>
<line x1="165.5" y1="699.7" x2="165.5" y2="750.6" class="wk"/>
<line x1="165.5" y1="784.6" x2="165.5" y2="792.8" class="wk"/>
<line x1="154.7" y1="699.7" x2="176.3" y2="699.7" class="wk"/>
<line x1="154.7" y1="792.8" x2="176.3" y2="792.8" class="wk"/>
<line x1="159.9" y1="768.8" x2="170.4" y2="768.8" stroke="#000" class="md"/>
<rect x="255.7" y="791.2" width="11.9" height="14.8" fill="#5ebdf0" class="bx"/>
<line x1="261.6" y1="761.8" x2="261.6" y2="791.2" class="wk"/>
<line x1="261.6" y1="806.0" x2="261.6" y2="810.8" class="wk"/>
<line x1="250.8" y1="761.8" x2="272.40000000000003" y2="761.8" class="wk"/>
<line x1="250.8" y1="810.8" x2="272.40000000000003" y2="810.8" class="wk"/>
<line x1="255.7" y1="798.0" x2="267.6" y2="798.0" stroke="#000" class="md"/>
<rect x="348.0" y="792.4" width="11.5" height="17.9" fill="#5ebdf0" class="bx"/>
<line x1="354.2" y1="770.0" x2="354.2" y2="792.4" class="wk"/>
<line x1="343.4" y1="770.0" x2="365.0" y2="770.0" class="wk"/>
<line x1="343.4" y1="810.8" x2="365.0" y2="810.8" class="wk"/>
<line x1="348.0" y1="810.3" x2="359.5" y2="810.3" stroke="#000" class="md"/>
<rect x="438.8" y="778.5" width="10.6" height="31.8" fill="#5ebdf0" class="bx"/>
<line x1="444.3" y1="773.6" x2="444.3" y2="778.5" class="wk"/>
<line x1="433.3" y1="773.6" x2="455.3" y2="773.6" class="wk"/>
<line x1="433.3" y1="810.8" x2="455.3" y2="810.8" class="wk"/>
<line x1="438.8" y1="806.5" x2="449.4" y2="806.5" stroke="#000" class="md"/>
<rect x="528.8" y="788.3" width="10.4" height="22.0" fill="#5ebdf0" class="bx"/>
<line x1="534.1" y1="775.8" x2="534.1" y2="788.3" class="wk"/>
<line x1="522.9" y1="775.8" x2="545.3000000000001" y2="775.8" class="wk"/>
<line x1="522.9" y1="810.8" x2="545.3000000000001" y2="810.8" class="wk"/>
<line x1="528.8" y1="800.0" x2="539.2" y2="800.0" stroke="#000" class="md"/>
<rect x="622.4" y="791.6" width="12.2" height="14.6" fill="#5ebdf0" class="bx"/>
<line x1="629.0" y1="783.1" x2="629.0" y2="791.6" class="wk"/>
<line x1="629.0" y1="806.2" x2="629.0" y2="810.8" class="wk"/>
<line x1="618.2" y1="783.1" x2="639.8" y2="783.1" class="wk"/>
<line x1="618.2" y1="810.8" x2="639.8" y2="810.8" class="wk"/>
<line x1="622.4" y1="800.5" x2="634.6" y2="800.5" stroke="#000" class="md"/>
<ellipse cx="165.5" cy="690.5" rx="2.4" ry="2.05" class="pt"/>
<ellipse cx="165.5" cy="695" rx="2.4" ry="2.05" class="pt"/>
<ellipse cx="165.5" cy="709" rx="2.4" ry="2.05" class="pt"/>
<ellipse cx="165.5" cy="732.5" rx="2.4" ry="2.05" class="pt"/>
<ellipse cx="165.5" cy="751" rx="2.4" ry="2.05" class="pt"/>
<ellipse cx="165.5" cy="756" rx="2.4" ry="2.05" class="pt"/>
<ellipse cx="165.5" cy="760" rx="2.4" ry="2.05" class="pt"/>
<ellipse cx="165.5" cy="765" rx="2.4" ry="2.05" class="pt"/>
<ellipse cx="165.5" cy="769" rx="2.4" ry="2.05" class="pt"/>
<ellipse cx="165.5" cy="774" rx="2.4" ry="2.05" class="pt"/>
<ellipse cx="165.5" cy="779" rx="2.4" ry="2.05" class="pt"/>
<ellipse cx="165.5" cy="784" rx="2.4" ry="2.05" class="pt"/>
<ellipse cx="165.5" cy="789" rx="2.4" ry="2.05" class="pt"/>
<ellipse cx="165.5" cy="793" rx="2.4" ry="2.05" class="pt"/>
<ellipse cx="165.5" cy="807" rx="2.4" ry="2.05" class="pt"/>
<ellipse cx="261.6" cy="751" rx="2.4" ry="2.05" class="pt"/>
<ellipse cx="261.6" cy="761.8" rx="2.4" ry="2.05" class="pt"/>
<ellipse cx="261.6" cy="765" rx="2.4" ry="2.05" class="pt"/>
<ellipse cx="261.6" cy="788" rx="2.4" ry="2.05" class="pt"/>
<ellipse cx="261.6" cy="793" rx="2.4" ry="2.05" class="pt"/>
<ellipse cx="261.6" cy="798" rx="2.4" ry="2.05" class="pt"/>
<ellipse cx="261.6" cy="802" rx="2.4" ry="2.05" class="pt"/>
<ellipse cx="261.6" cy="807" rx="2.4" ry="2.05" class="pt"/>
<ellipse cx="261.6" cy="811" rx="2.4" ry="2.05" class="pt"/>
<ellipse cx="354.2" cy="765" rx="2.4" ry="2.05" class="pt"/>
<ellipse cx="354.2" cy="770" rx="2.4" ry="2.05" class="pt"/>
<ellipse cx="354.2" cy="774" rx="2.4" ry="2.05" class="pt"/>
<ellipse cx="354.2" cy="784" rx="2.4" ry="2.05" class="pt"/>
<ellipse cx="354.2" cy="793" rx="2.4" ry="2.05" class="pt"/>
<ellipse cx="354.2" cy="807" rx="2.4" ry="2.05" class="pt"/>
<ellipse cx="354.2" cy="811" rx="2.4" ry="2.05" class="pt"/>
<ellipse cx="444.3" cy="773" rx="2.4" ry="2.05" class="pt"/>
<ellipse cx="444.3" cy="779" rx="2.4" ry="2.05" class="pt"/>
<ellipse cx="444.3" cy="784" rx="2.4" ry="2.05" class="pt"/>
<ellipse cx="444.3" cy="793" rx="2.4" ry="2.05" class="pt"/>
<ellipse cx="444.3" cy="798" rx="2.4" ry="2.05" class="pt"/>
<ellipse cx="444.3" cy="807" rx="2.4" ry="2.05" class="pt"/>
<ellipse cx="444.3" cy="811" rx="2.4" ry="2.05" class="pt"/>
<ellipse cx="534.1" cy="774" rx="2.4" ry="2.05" class="pt"/>
<ellipse cx="534.1" cy="779" rx="2.4" ry="2.05" class="pt"/>
<ellipse cx="534.1" cy="788" rx="2.4" ry="2.05" class="pt"/>
<ellipse cx="534.1" cy="793" rx="2.4" ry="2.05" class="pt"/>
<ellipse cx="534.1" cy="798" rx="2.4" ry="2.05" class="pt"/>
<ellipse cx="534.1" cy="807" rx="2.4" ry="2.05" class="pt"/>
<ellipse cx="534.1" cy="811" rx="2.4" ry="2.05" class="pt"/>
<ellipse cx="629.0" cy="742.2" rx="2.4" ry="2.05" class="pt"/>
<ellipse cx="629.0" cy="783" rx="2.4" ry="2.05" class="pt"/>
<ellipse cx="629.0" cy="788" rx="2.4" ry="2.05" class="pt"/>
<ellipse cx="629.0" cy="793" rx="2.4" ry="2.05" class="pt"/>
<ellipse cx="629.0" cy="798" rx="2.4" ry="2.05" class="pt"/>
<ellipse cx="629.0" cy="802" rx="2.4" ry="2.05" class="pt"/>
<ellipse cx="629.0" cy="807" rx="2.4" ry="2.05" class="pt"/>
<ellipse cx="629.0" cy="811" rx="2.4" ry="2.05" class="pt"/>
<path d="M87.8,486.3 L642.4,486.3 L642.4,853.0 L87.8,853.0 Z" class="fr"/>
<line x1="83.3" y1="485.9" x2="87.8" y2="485.9" class="fr"/>
<text x="75.6" y="492.5" font-size="14.6" text-anchor="end" textLength="13.0" lengthAdjust="spacingAndGlyphs" fill="#222">70</text>
<line x1="83.3" y1="532.4" x2="87.8" y2="532.4" class="fr"/>
<text x="75.6" y="539.0" font-size="14.6" text-anchor="end" textLength="13.0" lengthAdjust="spacingAndGlyphs" fill="#222">60</text>
<line x1="83.3" y1="578.9" x2="87.8" y2="578.9" class="fr"/>
<text x="75.6" y="585.5" font-size="14.6" text-anchor="end" textLength="13.0" lengthAdjust="spacingAndGlyphs" fill="#222">50</text>
<line x1="83.3" y1="625.4" x2="87.8" y2="625.4" class="fr"/>
<text x="75.6" y="632.0" font-size="14.6" text-anchor="end" textLength="13.0" lengthAdjust="spacingAndGlyphs" fill="#222">40</text>
<line x1="83.3" y1="671.9" x2="87.8" y2="671.9" class="fr"/>
<text x="75.6" y="678.5" font-size="14.6" text-anchor="end" textLength="13.0" lengthAdjust="spacingAndGlyphs" fill="#222">30</text>
<line x1="83.3" y1="718.4" x2="87.8" y2="718.4" class="fr"/>
<text x="75.6" y="725.0" font-size="14.6" text-anchor="end" textLength="13.0" lengthAdjust="spacingAndGlyphs" fill="#222">20</text>
<line x1="83.3" y1="764.9" x2="87.8" y2="764.9" class="fr"/>
<text x="75.6" y="771.5" font-size="14.6" text-anchor="end" textLength="13.0" lengthAdjust="spacingAndGlyphs" fill="#222">10</text>
<line x1="83.3" y1="811.4" x2="87.8" y2="811.4" class="fr"/>
<text x="75.6" y="818.0" font-size="14.6" text-anchor="end" textLength="6.7" lengthAdjust="spacingAndGlyphs" fill="#222">0</text>
<text x="108.7" y="877.2" font-size="14.6" textLength="45.4" lengthAdjust="spacingAndGlyphs" fill="#222">Min 1-5</text>
<text x="196.7" y="876.2" font-size="14.6" textLength="52.6" lengthAdjust="spacingAndGlyphs" fill="#222">Min 6-10</text>
<text x="284.6" y="878.8" font-size="14.6" textLength="59.6" lengthAdjust="spacingAndGlyphs" fill="#222">Min 11-15</text>
<text x="372.1" y="877.8" font-size="14.6" textLength="60.4" lengthAdjust="spacingAndGlyphs" fill="#222">Min 16-20</text>
<text x="468.7" y="877.0" font-size="14.6" textLength="60.3" lengthAdjust="spacingAndGlyphs" fill="#222">Min 21-25</text>
<text x="560.3" y="875.2" font-size="14.6" textLength="60.3" lengthAdjust="spacingAndGlyphs" fill="#222">Min 26-30</text>
<text transform="translate(34.6,674.5) rotate(-90)" x="0" y="0" font-size="14.4" text-anchor="middle" textLength="305" lengthAdjust="spacingAndGlyphs" fill="#3a3a3a">Frequency (n;; medians and interquartile ranges)</text>
<path d="M108,60 L108,54.9 L158.8,54.9 L158.8,60" class="br"/>
<text x="130.3" y="50.3" font-size="11.5" text-anchor="middle" textLength="33.4" lengthAdjust="spacingAndGlyphs" fill="#333">≤.0001</text>
<path d="M103.2,77.4 L103.2,71.9 L129.2,71.9 L129.2,77.4" class="br"/>
<text x="118.8" y="69.0" font-size="11.5" text-anchor="middle" textLength="18.7" lengthAdjust="spacingAndGlyphs" fill="#333">.003</text>
<path d="M135.2,78.8 L135.2,72.5 L161.2,72.5 L161.2,78.8" class="br"/>
<text x="150.5" y="69.0" font-size="11.5" text-anchor="middle" textLength="33.4" lengthAdjust="spacingAndGlyphs" fill="#333">≤.0001</text>
<path d="M201.6,60.5 L201.6,54.6 L251.9,54.6 L251.9,60.5" class="br"/>
<text x="224.8" y="50.5" font-size="11.5" text-anchor="middle" textLength="33.4" lengthAdjust="spacingAndGlyphs" fill="#333">≤.0001</text>
<path d="M225.3,73.6 L225.3,68.2 L251.1,68.2 L251.1,73.6" class="br"/>
<text x="241.0" y="65.1" font-size="11.5" text-anchor="middle" textLength="17.5" lengthAdjust="spacingAndGlyphs" fill="#333">.001</text>
<path d="M298.4,82.3 L298.4,76.7 L348.7,76.7 L348.7,82.3" class="br"/>
<text x="321.0" y="72.8" font-size="11.5" text-anchor="middle" textLength="33.4" lengthAdjust="spacingAndGlyphs" fill="#333">≤.0001</text>
<path d="M298.4,95.4 L298.4,89.9 L325.3,89.9 L325.3,95.4" class="br"/>
<text x="314.6" y="87.7" font-size="11.5" text-anchor="middle" textLength="18.7" lengthAdjust="spacingAndGlyphs" fill="#333">.032</text>
<path d="M478.8,92.3 L478.8,86.7 L505.5,86.7 L505.5,92.3" class="br"/>
<text x="490.7" y="83.8" font-size="11.5" text-anchor="middle" textLength="18.7" lengthAdjust="spacingAndGlyphs" fill="#333">.039</text>
<path d="M113.5,507.5 L113.5,502.0 L164.7,502.0 L164.7,507.5" class="br"/>
<text x="137.1" y="497.9" font-size="11.5" text-anchor="middle" textLength="33.6" lengthAdjust="spacingAndGlyphs" fill="#333">≤.0001</text>
<path d="M108.5,524.8 L108.5,519.4 L134.4,519.4 L134.4,524.8" class="br"/>
<text x="124.8" y="517.0" font-size="11.5" text-anchor="middle" textLength="18.7" lengthAdjust="spacingAndGlyphs" fill="#333">.007</text>
<path d="M140.2,526.0 L140.2,520.5 L167.3,520.5 L167.3,526.0" class="br"/>
<text x="156.5" y="517.0" font-size="11.5" text-anchor="middle" textLength="33.4" lengthAdjust="spacingAndGlyphs" fill="#333">≤.0001</text>
<path d="M206.4,546.9 L206.4,541.6 L256.5,541.6 L256.5,546.9" class="br"/>
<text x="229.3" y="537.9" font-size="11.5" text-anchor="middle" textLength="33.4" lengthAdjust="spacingAndGlyphs" fill="#333">≤.0001</text>
<path d="M231.9,564.2 L231.9,559.1 L257.4,559.1 L257.4,564.2" class="br"/>
<text x="247.5" y="556.6" font-size="11.5" text-anchor="middle" textLength="17.5" lengthAdjust="spacingAndGlyphs" fill="#333">.001</text>
<path d="M298.2,549.3 L298.2,544.2 L348.8,544.2 L348.8,549.3" class="br"/>
<text x="321.5" y="539.8" font-size="12.3" text-anchor="middle" textLength="20.3" lengthAdjust="spacingAndGlyphs" fill="#333">.001</text>
<rect x="114.9" y="900.6" width="9" height="14.6" fill="#fff" stroke="#222" stroke-width="1.2"/>
<text x="130.3" y="911.7" font-size="14.2" textLength="37.7" lengthAdjust="spacingAndGlyphs" fill="#222">Saline</text>
<rect x="235.8" y="903.8" width="10" height="12.6" fill="#ee0000" stroke="#222" stroke-width="1"/>
<text x="255.8" y="915" font-size="13.4" textLength="151.9" lengthAdjust="spacingAndGlyphs" fill="#222">D-Cycloserine&#160; 20&#160; mg/kg</text>
<rect x="445.6" y="903.5" width="9.2" height="13.4" fill="#66bbee" stroke="#222" stroke-width="1"/>
<text x="462.9" y="915" font-size="13.4" textLength="142.3" lengthAdjust="spacingAndGlyphs" fill="#222">Amantadine&#160; 40 mg/kg</text>
</svg>
</body></html>
